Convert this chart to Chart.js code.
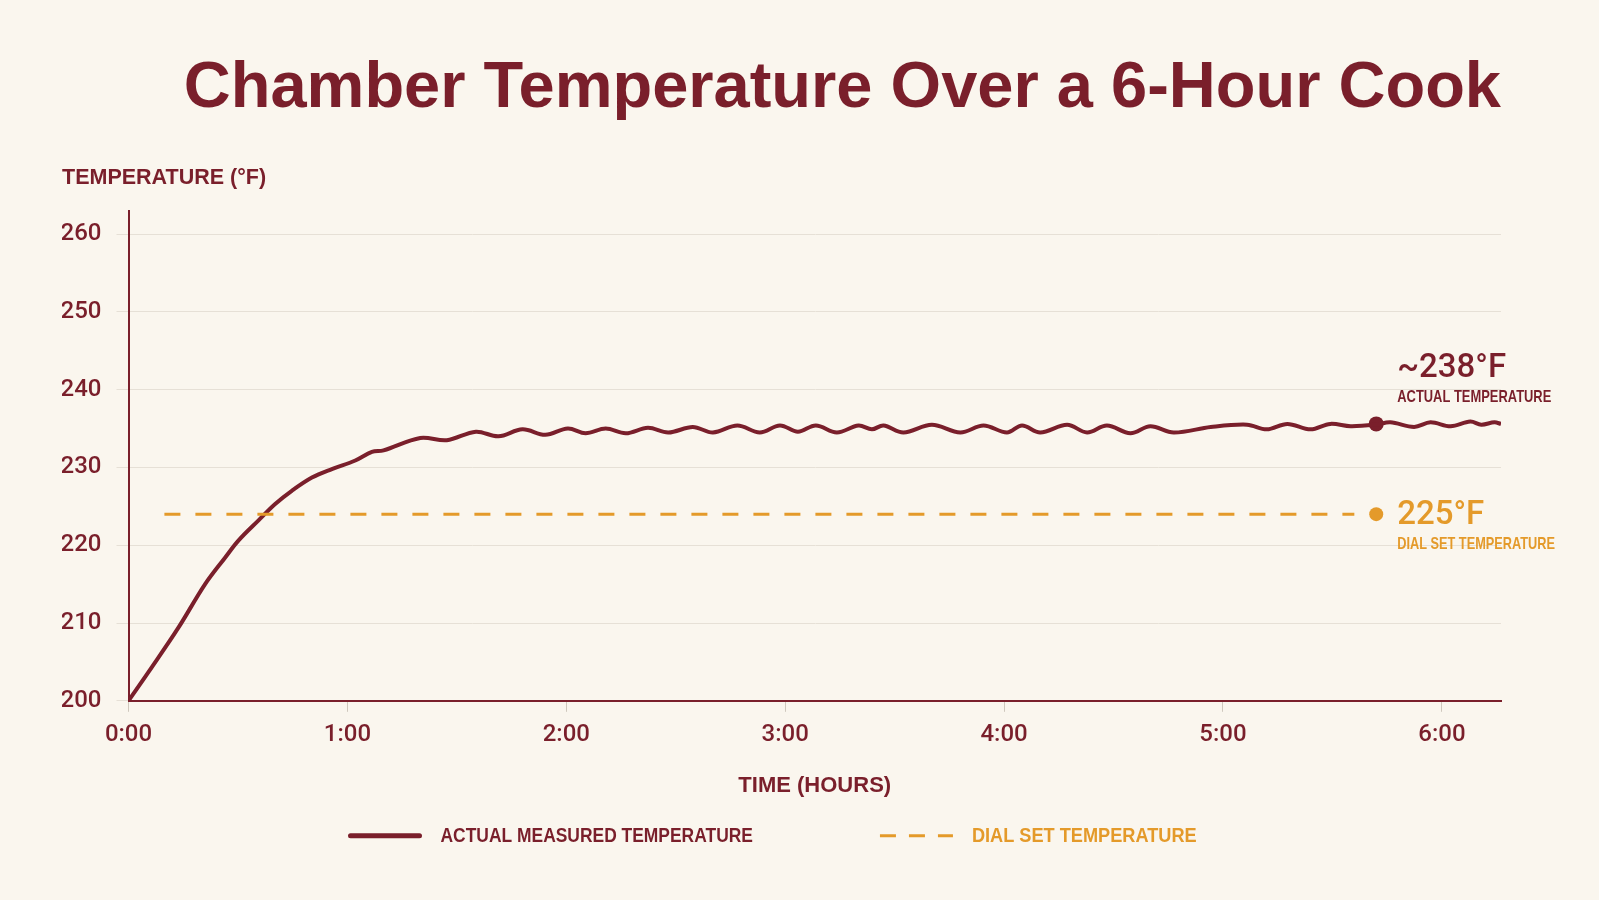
<!DOCTYPE html>
<html>
<head>
<meta charset="utf-8">
<script src="https://cdn.jsdelivr.net/npm/chart.js@4.4.1/dist/chart.umd.min.js"></script>
<style>
  html, body { margin: 0; padding: 0; background: #faf6ee; }
  #chart { display: block; }
</style>
</head>
<body>
<canvas id="chart" width="1599" height="900"></canvas>
<script>
// elapsed cook time (hours) and measured chamber temperature (°F)
const hours = [0, 0.106, 0.228, 0.35, 0.441, 0.502, 0.594, 0.67, 0.746, 0.838, 0.929, 1.036, 1.112, 1.165,
  1.333, 1.454, 1.587, 1.69, 1.8, 1.904, 2.007, 2.088, 2.18, 2.272, 2.373, 2.466, 2.578, 2.67, 2.782, 2.884,
  2.976, 3.058, 3.14, 3.236, 3.335, 3.396, 3.449, 3.54, 3.67, 3.8, 3.906, 4.013, 4.082, 4.165,
  4.288, 4.379, 4.47, 4.577, 4.668, 4.775, 4.944, 5.11, 5.2, 5.294, 5.4, 5.49, 5.583, 5.7,
  5.764, 5.873, 5.948, 6.04, 6.13, 6.18, 6.24, 6.27];
const actualTemps = [200, 204.3, 209.4, 215.0, 218.4, 220.6, 223.2, 225.3, 227.0, 228.7, 229.8, 230.9, 232.0, 232.2,
  233.8, 233.5, 234.6, 234.0, 234.9, 234.2, 235.0, 234.4, 235.0, 234.4, 235.1, 234.5, 235.2, 234.5, 235.4, 234.5,
  235.4, 234.6, 235.4, 234.5, 235.4, 234.9, 235.4, 234.5, 235.5, 234.5, 235.4, 234.5, 235.4, 234.5,
  235.5, 234.5, 235.4, 234.4, 235.3, 234.5, 235.2, 235.5, 234.9, 235.6, 234.9, 235.6, 235.3, 235.5,
  235.8, 235.2, 235.8, 235.3, 235.9, 235.5, 235.8, 235.6];

// dial set temperature line
const setHours = [0.164, 5.6];
const setTemps = [224, 224];

// end markers
const markerHour = 5.7;
const actualMarkerTemp = 235.6;
const setMarkerTemp = 224;

const timeLabels = ['0:00', '1:00', '2:00', '3:00', '4:00', '5:00', '6:00'];
const calloutValues = ['~238°F', '225°F'];
const calloutNames = ['ACTUAL TEMPERATURE', 'DIAL SET TEMPERATURE'];
const legendNames = ['ACTUAL MEASURED TEMPERATURE', 'DIAL SET TEMPERATURE'];

const maroon = '#7a1f2b';
const orange = '#e49a2a';

const toPoints = (xs, ys) => xs.map((x, i) => ({ x: x, y: ys[i] }));

// no condensed font installed, so squeeze the small caps labels horizontally
function narrowText(ctx, text, x, y, sx) {
  ctx.save();
  ctx.translate(x, y);
  ctx.scale(sx, 1);
  ctx.fillText(text, 0, 0);
  ctx.restore();
  return ctx.measureText(text).width * sx;
}

// callout text next to the end markers + legend under the chart
const calloutPlugin = {
  id: 'callouts',
  afterDraw(chart) {
    const { ctx, scales: { x, y }, chartArea } = chart;
    const mx = x.getPixelForValue(markerHour) + 21;
    const ya = y.getPixelForValue(actualMarkerTemp);
    const ys = y.getPixelForValue(setMarkerTemp);
    ctx.save();
    ctx.textAlign = 'left';
    ctx.textBaseline = 'middle';

    ctx.fillStyle = maroon;
    ctx.font = '500 33px Roboto';
    ctx.fillText(calloutValues[0], mx, ya - 55);
    ctx.font = 'bold 17px "Liberation Sans"';
    narrowText(ctx, calloutNames[0], mx, ya - 27, 0.76);

    ctx.fillStyle = orange;
    ctx.font = '500 33px Roboto';
    ctx.fillText(calloutValues[1], mx, ys + 2);
    ctx.font = 'bold 17px "Liberation Sans"';
    narrowText(ctx, calloutNames[1], mx, ys + 30, 0.75);

    // legend
    const ly = chartArea.bottom + 135;
    let lx = chartArea.left + 220;
    ctx.lineWidth = 5;
    ctx.lineCap = 'round';
    ctx.strokeStyle = maroon;
    ctx.beginPath();
    ctx.moveTo(lx + 2, ly);
    ctx.lineTo(lx + 71, ly);
    ctx.stroke();
    ctx.font = 'bold 21px "Liberation Sans"';
    ctx.fillStyle = maroon;
    const w1 = narrowText(ctx, legendNames[0], lx + 92, ly, 0.83);

    lx = lx + 92 + w1 + 127;
    ctx.lineWidth = 3;
    ctx.lineCap = 'butt';
    ctx.strokeStyle = orange;
    ctx.setLineDash([16, 13]);
    ctx.beginPath();
    ctx.moveTo(lx, ly);
    ctx.lineTo(lx + 73, ly);
    ctx.stroke();
    ctx.setLineDash([]);
    ctx.fillStyle = orange;
    narrowText(ctx, legendNames[1], lx + 92, ly, 0.865);
    ctx.restore();
  }
};

new Chart(document.getElementById('chart'), {
  type: 'line',
  data: {
    datasets: [
      {
        label: 'Dial set temperature',
        data: toPoints(setHours, setTemps),
        borderColor: orange,
        borderWidth: 3,
        borderDash: [16, 15],
        pointRadius: 0,
        fill: false
      },
      {
        label: 'Actual measured temperature',
        data: toPoints(hours, actualTemps),
        borderColor: maroon,
        borderWidth: 4,
        tension: 0.35,
        pointRadius: 0,
        fill: false
      },
      {
        label: 'Actual marker',
        data: [{ x: markerHour, y: actualMarkerTemp }],
        showLine: false,
        pointRadius: 7.5,
        pointBackgroundColor: maroon,
        pointBorderWidth: 0
      },
      {
        label: 'Set marker',
        data: [{ x: markerHour, y: setMarkerTemp }],
        showLine: false,
        pointRadius: 7,
        pointBackgroundColor: orange,
        pointBorderWidth: 0
      }
    ]
  },
  options: {
    responsive: false,
    animation: false,
    devicePixelRatio: 1,
    layout: { padding: { top: 50, left: 62, right: 98, bottom: 101 } },
    plugins: {
      legend: { display: false },
      tooltip: { enabled: false },
      title: {
        display: true,
        text: 'Chamber Temperature Over a 6-Hour Cook',
        align: 'end',
        color: maroon,
        font: { family: '"Liberation Sans"', weight: 'bold', size: 65 },
        padding: { top: 0, bottom: 17.5 }
      },
      subtitle: {
        display: true,
        text: 'TEMPERATURE (°F)',
        align: 'start',
        color: maroon,
        font: { family: '"Liberation Sans"', weight: 'bold', size: 21.5 },
        padding: { top: 20, bottom: 19.5 }
      }
    },
    scales: {
      x: {
        type: 'linear',
        min: 0,
        max: 6.27,
        border: { color: maroon, width: 2 },
        grid: { drawOnChartArea: false, drawTicks: true, tickLength: 11, color: '#cfc8bd' },
        ticks: {
          stepSize: 1,
          includeBounds: false,
          padding: 9,
          color: maroon,
          font: { family: 'Roboto', weight: '500', size: 24 },
          callback: (v) => timeLabels[Math.round(v)]
        },
        title: {
          display: true,
          text: 'TIME (HOURS)',
          color: maroon,
          font: { family: '"Liberation Sans"', weight: 'bold', size: 22 },
          padding: { top: 14, bottom: 0 }
        }
      },
      y: {
        min: 200,
        max: 263,
        border: { color: maroon, width: 2 },
        grid: { color: '#e6e0d6', tickLength: 12 },
        ticks: {
          stepSize: 10,
          includeBounds: false,
          padding: 15,
          color: maroon,
          font: { family: 'Roboto', weight: '500', size: 24 }
        },
        afterFit: (scale) => { scale.width = 66.5; }
      }
    }
  },
  plugins: [calloutPlugin]
});
</script>
</body>
</html>
